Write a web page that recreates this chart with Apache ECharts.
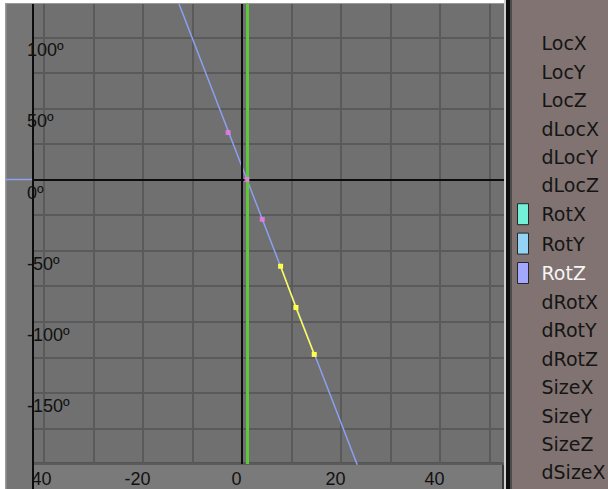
<!DOCTYPE html>
<html><head><meta charset="utf-8">
<script src="https://cdn.jsdelivr.net/npm/echarts@6/dist/echarts.min.js"></script>
<style>html,body{margin:0;padding:0;background:#fff}#c{width:608px;height:489px}</style>
</head><body><div id="c"></div>
<script>
// ---- data ----
const channels = ['LocX','LocY','LocZ','dLocX','dLocY','dLocZ','RotX','RotY','RotZ','dRotX','dRotY','dRotZ','SizeX','SizeY','SizeZ','dSizeX'];
const channelColors = {RotX:'#74f0d8', RotY:'#94d2f6', RotZ:'#a2a8ff'};
const activeChannel = 'RotZ';
// RotZ curve (frame, degrees), linear extrapolation beyond keys
const rotZCurve = [[-14,135],[1,0],[11,-90],[25,-216]];
// bezier handles of key 1 (unselected, pink) and key 2 (selected, yellow)
const key1Points = [[-2.8,33],[1,0],[4.1,-28]];
const key2Points = [[7.8,-61],[10.9,-90],[14.6,-123]];
const currentFrame = 1;
const stubSegment = [[-47.9,0],[-42.4,0]];
const xTickValues = [-40,-20,0,20,40];
const xTickLabels = ['-40','-20','0','20','40'];
const yTickValues = [100,50,0,-50,-100,-150];
const yTickLabels = ['100º','50º','0º','-50º','-100º','-150º'];

// ---- chart ----
const chart = echarts.init(document.getElementById('c'), null, {renderer:'svg'});
const X_MIN=-50, X_MAX=53.1, Y_MIN=-200, Y_MAX=125;
const curveColor = '#8c9ff0';

const series = [];
series.push({
  type:'line', name:'_axes', data:[], z:3, silent:true,
  markLine:{silent:true, symbol:'none', label:{show:false}, animation:false,
    emphasis:{disabled:true},
    data:[
      {xAxis:0, lineStyle:{color:'#0c0c0c', width:2, type:'solid'}},
      {yAxis:0, lineStyle:{color:'#0c0c0c', width:2, type:'solid'}},
      {xAxis:currentFrame, lineStyle:{color:'#5cc83a', width:3, type:'solid'}}
    ]}
});
channels.forEach(c => {
  if (c === 'RotZ') {
    series.push({type:'line', name:c, data:rotZCurve, z:4, symbol:'none', silent:true,
      lineStyle:{color:curveColor, width:1.5}, itemStyle:{color:curveColor}, emphasis:{disabled:true}});
  } else {
    series.push({type:'line', name:c, data:[], symbol:'none'});
  }
});
series.push({type:'scatter', name:'key1', data:key1Points, z:5, symbol:'rect', symbolSize:5, silent:true,
  itemStyle:{color:'#f07cf0'}, emphasis:{disabled:true}});
series.push({type:'line', name:'key2', data:key2Points, z:6, symbol:'rect', symbolSize:5, silent:true,
  showSymbol:true, lineStyle:{color:'#ffff4a', width:1.5}, itemStyle:{color:'#ffff4a'}, emphasis:{disabled:true}});
series.push({type:'line', name:'stub', data:stubSegment, z:9, symbol:'none', silent:true,
  lineStyle:{color:curveColor, width:1.5}, emphasis:{disabled:true}});

const labelFont = {fontFamily:'Liberation Sans', fontSize:18, color:'#111'};

const option = {
  animation:false,
  grid:{left:-5.5, right:103.2, top:1.75, bottom:25.1, show:true, backgroundColor:'#707070', borderWidth:0,
        containLabel:false, outerBoundsMode:'none'},
  xAxis:[{
    type:'value', min:X_MIN, max:X_MAX, interval:10, z:2,
    axisLine:{show:false}, axisTick:{show:false},
    splitLine:{show:true, lineStyle:{color:'#5a5a5a', width:2}},
    axisLabel:Object.assign({show:true, interval:0, hideOverlap:false, margin:15, verticalAlign:'middle',
      padding:[0,11,0,0],
      formatter: v => { const i = xTickValues.indexOf(Math.round(v*10)/10); return i>=0 ? xTickLabels[i] : ''; }
    }, labelFont)
  }],
  yAxis:[{
    type:'value', min:Y_MIN, max:Y_MAX, interval:25, z:2,
    axisLine:{show:false}, axisTick:{show:false}, axisLabel:{show:false},
    splitLine:{show:true, lineStyle:{color:'#5a5a5a', width:2}}
  },{
    type:'value', min:Y_MIN, max:Y_MAX, interval:25, z:8, position:'left', offset:-37.5,
    axisLine:{show:false}, axisTick:{show:false}, splitLine:{show:false},
    axisLabel:Object.assign({show:true, interval:0, hideOverlap:false, margin:5, align:'left', verticalAlign:'top',
      lineHeight:26,
      formatter: v => { const i = yTickValues.indexOf(Math.round(v)); return i>=0 ? yTickLabels[i] : ''; }
    }, labelFont)
  }],
  legend:{
    orient:'vertical', left:517, top:32.8, height:452, padding:0, itemWidth:11, itemHeight:21, itemGap:7.4,
    selectedMode:false, z:11,
    textStyle:{fontFamily:'DejaVu Sans', fontSize:19, lineHeight:21, color:'#151515', padding:[0,0,0,8]},
    data: channels.map(c => {
      const item = {name:c, icon: channelColors[c] ? 'rect' : 'none'};
      if (channelColors[c]) item.itemStyle = {color:channelColors[c], borderColor:'#262626', borderWidth:1};
      if (c === activeChannel) item.textStyle = {color:'#f6f6f6'};
      return item;
    })
  },
  graphic:[
    // bottom scrollbar
    {type:'rect', z:1, shape:{x:34, y:464, width:469, height:25}, style:{fill:'#7a7a7a'}},
    {type:'rect', z:1, shape:{x:34, y:462.5, width:469, height:1.5}, style:{fill:'#3a3a3a'}},
    {type:'rect', z:1, shape:{x:502, y:463, width:2, height:26}, style:{fill:'#3a3a3a'}},
    // left strip
    {type:'rect', z:6, shape:{x:5, y:3, width:27, height:486}, style:{fill:'#757575'}},
    {type:'rect', z:6, shape:{x:5, y:3, width:1.5, height:486}, style:{fill:'#9a9a9a'}},
    {type:'rect', z:7, shape:{x:32, y:3, width:2, height:486}, style:{fill:'#0c0c0c'}},
    // outer white margins and top edge
    {type:'rect', z:10, shape:{x:0, y:0, width:512, height:3}, style:{fill:'#ffffff'}},
    {type:'rect', z:10, shape:{x:0, y:0, width:5, height:489}, style:{fill:'#ffffff'}},
    {type:'rect', z:10, shape:{x:5, y:3, width:499, height:1}, style:{fill:'#9a9a9a'}},
    // divider and channel panel
    {type:'rect', z:10, shape:{x:504, y:0, width:2, height:489}, style:{fill:'#cfcfcf'}},
    {type:'rect', z:10, shape:{x:506, y:0, width:4, height:489}, style:{fill:'#0e0e0e'}},
    {type:'rect', z:10, shape:{x:510, y:0, width:2, height:489}, style:{fill:'#4c4c4c'}},
    {type:'rect', z:10, shape:{x:512, y:0, width:96, height:489}, style:{fill:'#807371'}}
  ],
  series: series
};
chart.setOption(option);
</script>
</body></html>
